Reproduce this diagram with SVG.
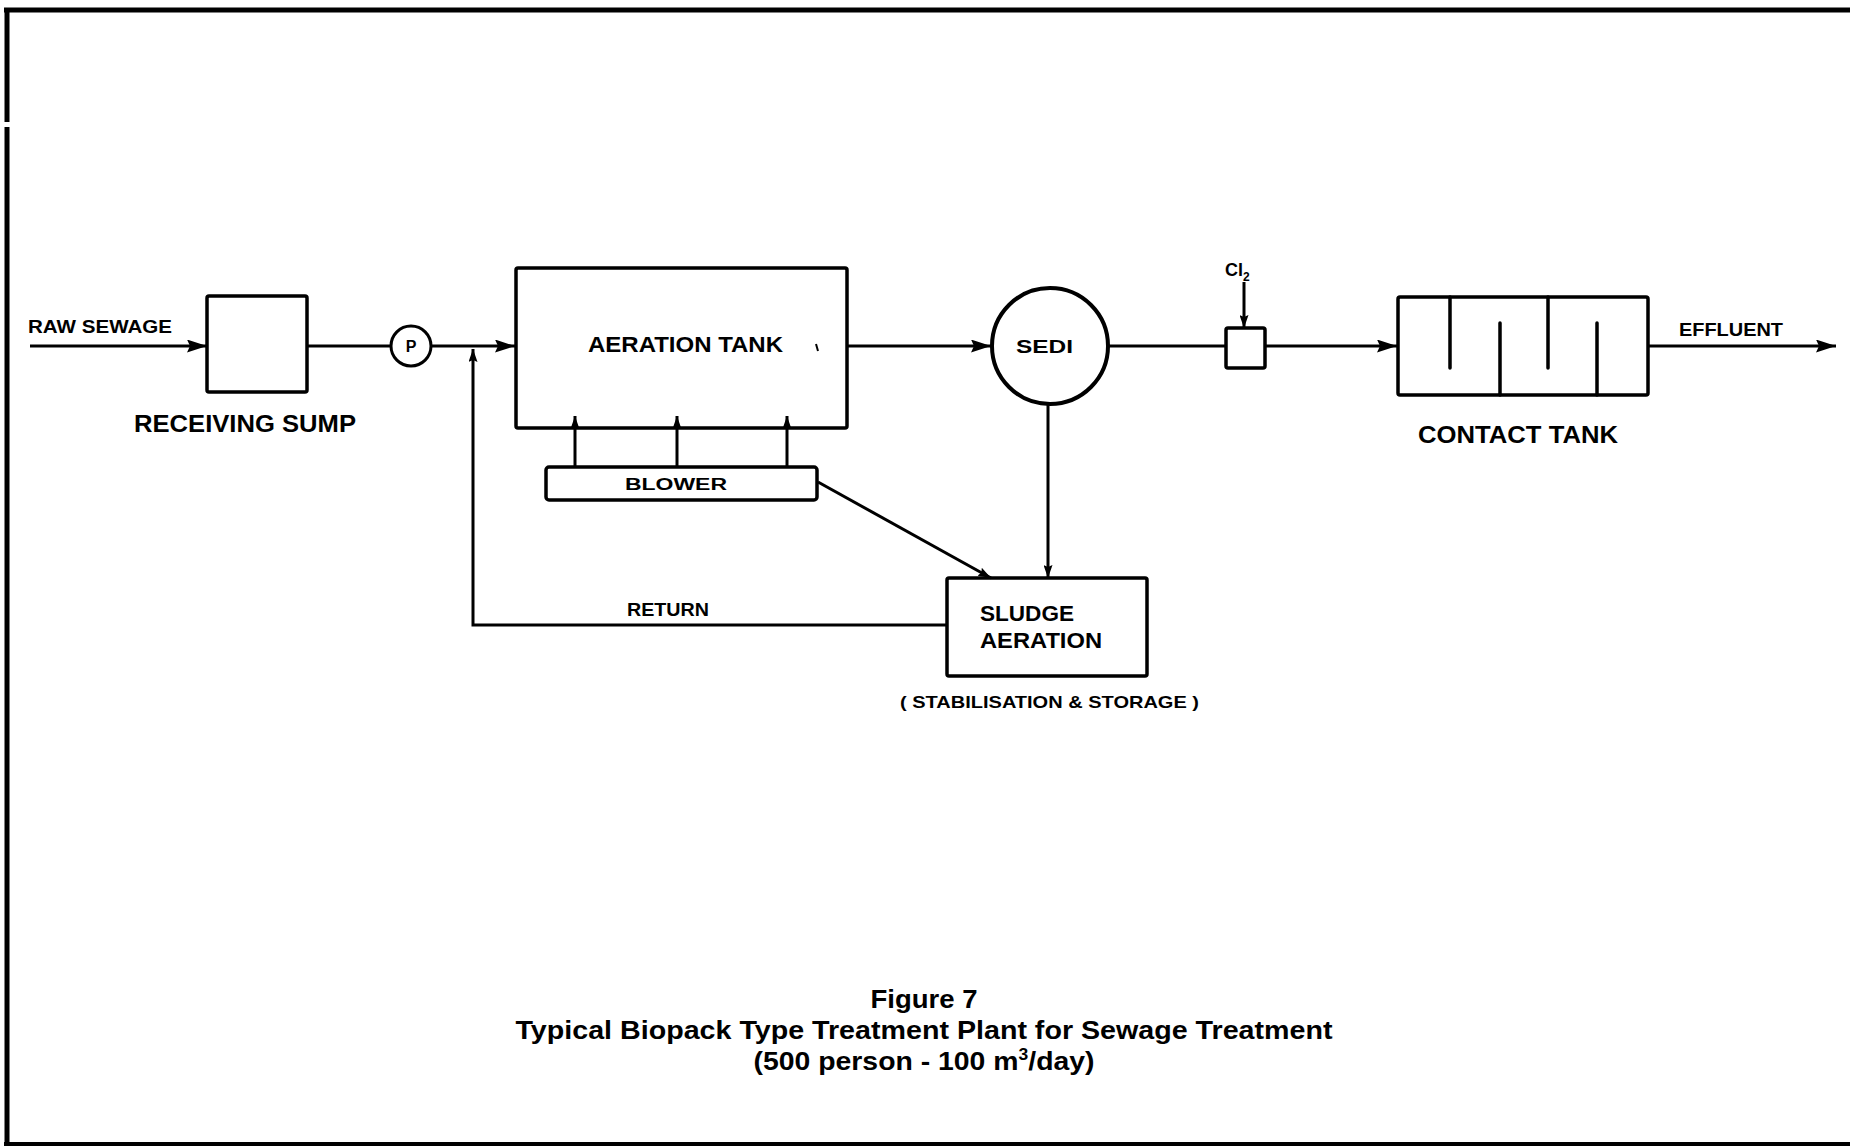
<svg xmlns="http://www.w3.org/2000/svg" width="1850" height="1146" viewBox="0 0 1850 1146">
<style>
.box{fill:none;stroke:#000;stroke-width:3.5}
.ln{fill:none;stroke:#000;stroke-width:3}
.t{font-family:"Liberation Sans",Arial,sans-serif;font-weight:bold;fill:#000}
</style>
<defs>
<marker id="ab" markerWidth="20" markerHeight="13" refX="20" refY="6.5" orient="auto" markerUnits="userSpaceOnUse"><path d="M0,0 L20,6.5 L0,13 L3,6.5 z" fill="#000"/></marker>
<marker id="as" markerWidth="13" markerHeight="9" refX="13" refY="4.5" orient="auto" markerUnits="userSpaceOnUse"><path d="M0,0 L13,4.5 L0,9 L2,4.5 z" fill="#000"/></marker>
</defs>
<rect width="1850" height="1146" fill="#fff"/>
<g id="frame" fill="none" stroke="#000">
<path d="M4,10 H1850" stroke-width="5"/>
<path d="M7,10 V122 M7,127 V1144" stroke-width="5"/>
<path d="M4,1144 H1850" stroke-width="4"/>
</g>
<g id="connectors">
<path class="ln" d="M30,346 H207" marker-end="url(#ab)"/>
<path class="ln" d="M307,346 H391"/>
<path class="ln" d="M431,346 H515" marker-end="url(#ab)"/>
<path class="ln" d="M847,346 H991" marker-end="url(#ab)"/>
<path class="ln" d="M1108,346 H1226"/>
<path class="ln" d="M1265,346 H1397" marker-end="url(#ab)"/>
<path class="ln" d="M1648,346 H1836" marker-end="url(#ab)"/>
<path class="ln" d="M1244,282 V328" marker-end="url(#as)"/>
<path class="ln" d="M575,467 V416" marker-end="url(#as)"/>
<path class="ln" d="M677,467 V416" marker-end="url(#as)"/>
<path class="ln" d="M787,467 V416" marker-end="url(#as)"/>
<path class="ln" d="M818,482 L991,578" marker-end="url(#as)"/>
<path class="ln" d="M1048,404 V578" marker-end="url(#as)"/>
<path class="ln" d="M947,625 H473 V349" marker-end="url(#as)"/>
</g>
<g id="raw-sewage"><text class="t" x="28" y="333" font-size="19" textLength="144" lengthAdjust="spacingAndGlyphs">RAW SEWAGE</text></g>
<g id="receiving-sump">
<rect class="box" x="207" y="296" width="100" height="96" rx="2"/>
<text class="t" x="134" y="432" font-size="23" textLength="222" lengthAdjust="spacingAndGlyphs">RECEIVING  SUMP</text>
</g>
<g id="pump">
<circle class="ln" cx="411" cy="346" r="20"/>
<text class="t" x="411" y="352" font-size="16" text-anchor="middle">P</text>
</g>
<g id="aeration-tank">
<rect class="box" x="516" y="268" width="331" height="160" rx="2"/>
<text class="t" x="588" y="352" font-size="22" textLength="195" lengthAdjust="spacingAndGlyphs">AERATION TANK</text>
<path d="M816,344 L818,351" stroke="#000" stroke-width="2"/>
</g>
<g id="blower">
<rect class="box" x="546" y="467" width="271" height="33" rx="3"/>
<text class="t" x="625" y="490" font-size="16" textLength="102" lengthAdjust="spacingAndGlyphs">BLOWER</text>
</g>
<g id="sedi">
<circle cx="1050" cy="346" r="58" fill="none" stroke="#000" stroke-width="4"/>
<text class="t" x="1016" y="353" font-size="19" textLength="57" lengthAdjust="spacingAndGlyphs">SEDI</text>
</g>
<g id="chlorine">
<rect class="box" x="1226" y="328" width="39" height="40" rx="2"/>
<text class="t" x="1225" y="276" font-size="18">Cl<tspan font-size="12" dy="5">2</tspan></text>
</g>
<g id="contact-tank">
<rect class="box" x="1398" y="297" width="250" height="98" rx="2"/>
<path d="M1450,297 V368 M1548,297 V368 M1500,395 V323 M1597,395 V323" fill="none" stroke="#000" stroke-width="3.5" stroke-linecap="round"/>
<text class="t" x="1418" y="443" font-size="23" textLength="200" lengthAdjust="spacingAndGlyphs">CONTACT  TANK</text>
</g>
<g id="effluent"><text class="t" x="1679" y="336" font-size="18" textLength="104" lengthAdjust="spacingAndGlyphs">EFFLUENT</text></g>
<g id="sludge-aeration">
<rect class="box" x="947" y="578" width="200" height="98" rx="2"/>
<text class="t" x="980" y="621" font-size="22" textLength="94" lengthAdjust="spacingAndGlyphs">SLUDGE</text>
<text class="t" x="980" y="648" font-size="22" textLength="122" lengthAdjust="spacingAndGlyphs">AERATION</text>
<text class="t" x="900" y="708" font-size="17" textLength="299" lengthAdjust="spacingAndGlyphs">( STABILISATION &amp; STORAGE )</text>
</g>
<g id="return-label"><text class="t" x="627" y="616" font-size="18" textLength="82" lengthAdjust="spacingAndGlyphs">RETURN</text></g>
<g id="caption" class="t" font-size="26" text-anchor="middle">
<text class="t" x="924" y="1008" textLength="107" lengthAdjust="spacingAndGlyphs">Figure 7</text>
<text class="t" x="924" y="1039" textLength="817" lengthAdjust="spacingAndGlyphs">Typical Biopack Type Treatment Plant for Sewage Treatment</text>
<text class="t" x="924" y="1070" textLength="341" lengthAdjust="spacingAndGlyphs">(500 person - 100 m<tspan font-size="16" dy="-10">3</tspan><tspan dy="10">/day)</tspan></text>
</g>
</svg>
